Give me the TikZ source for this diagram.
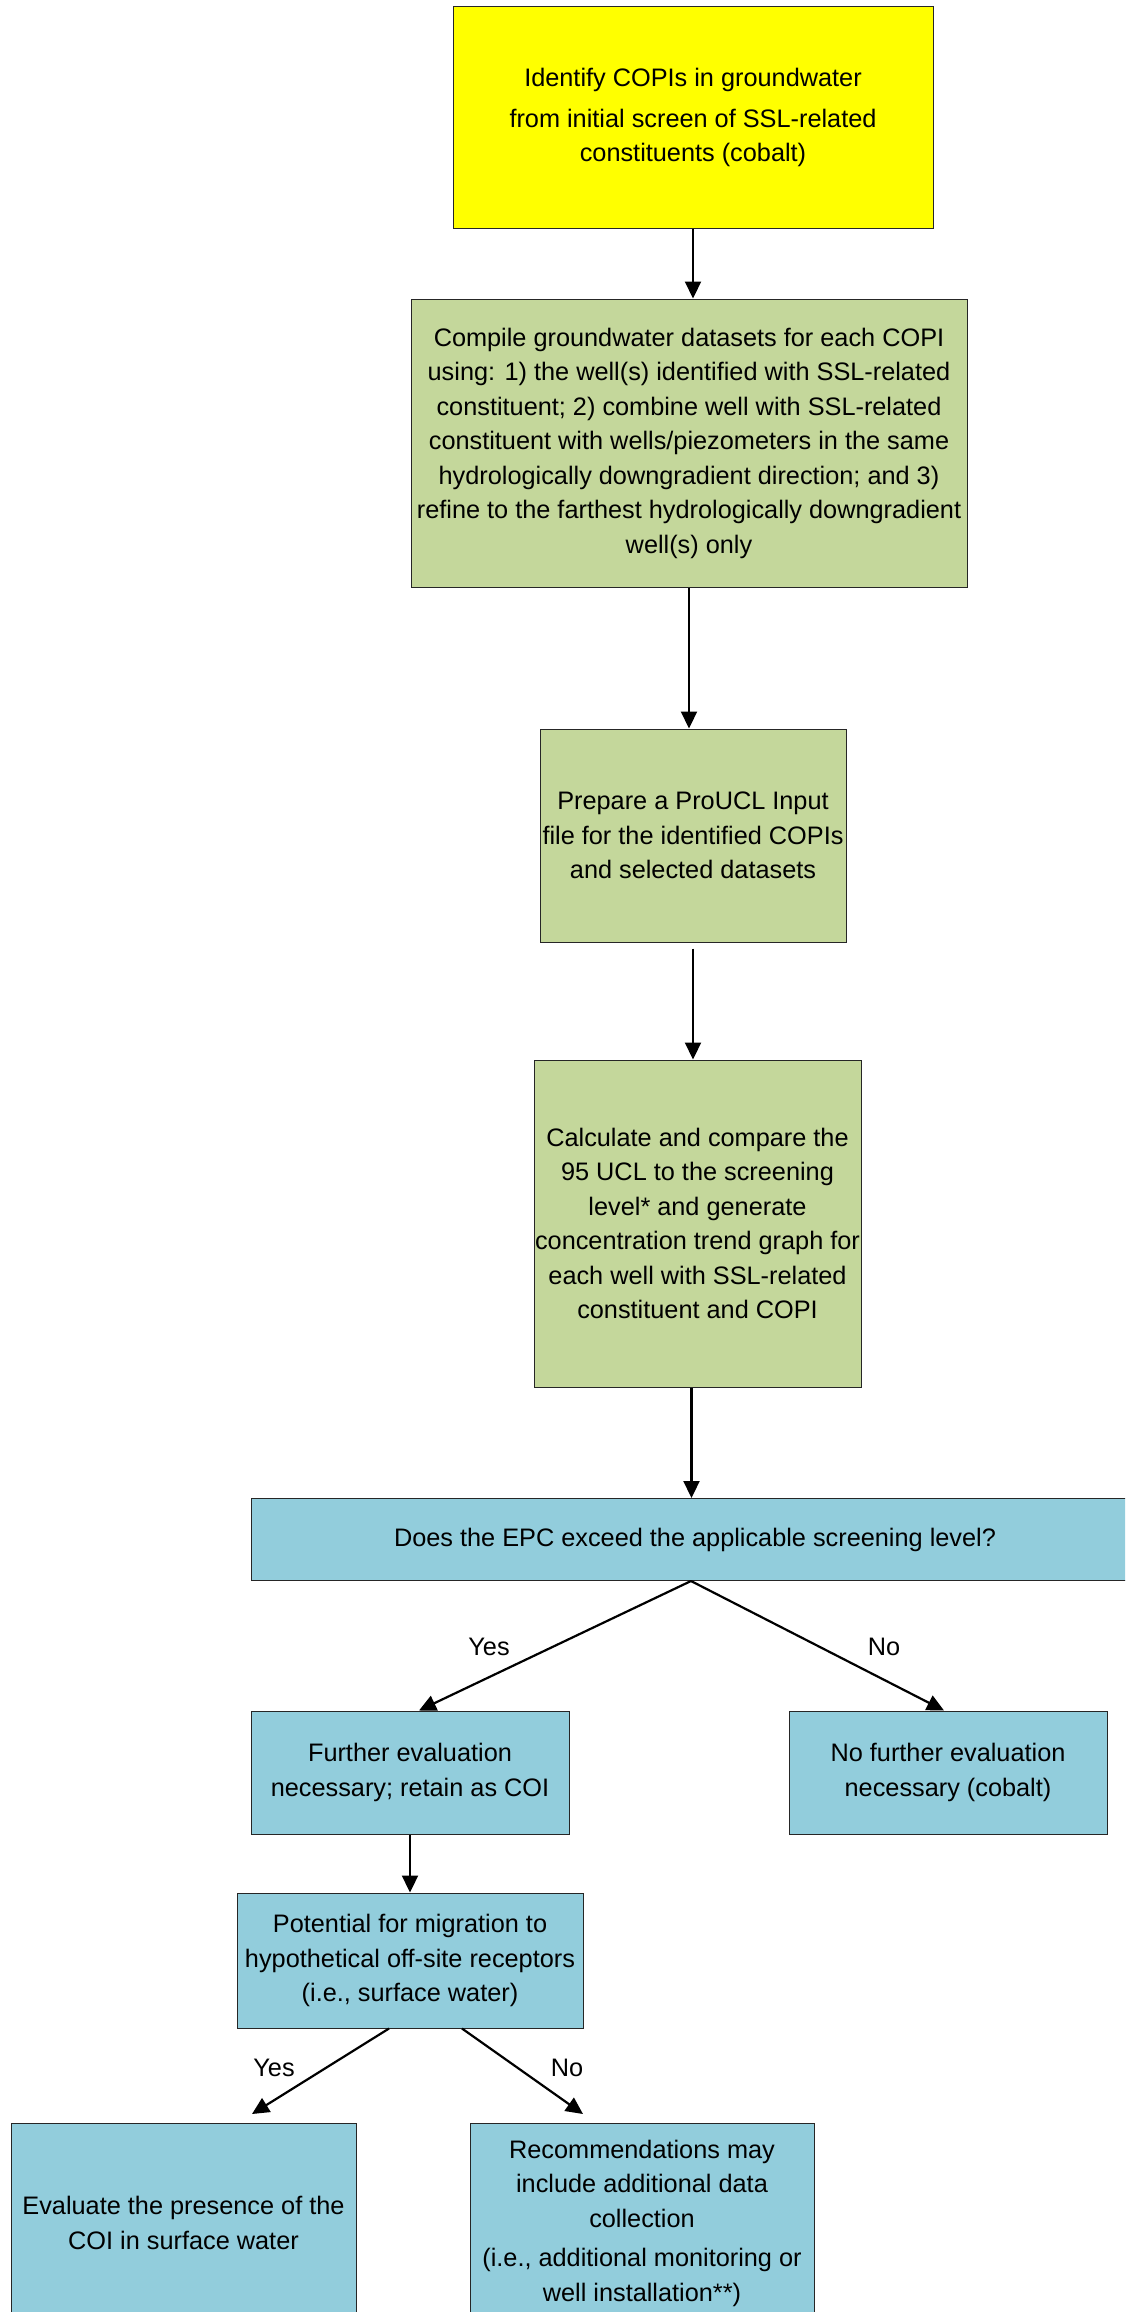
\documentclass[tikz,border=0pt]{standalone}
\usepackage{fontspec}
\setmainfont{Liberation Sans}
\usetikzlibrary{arrows.meta}
\definecolor{stepyellow}{HTML}{FFFF00}
\definecolor{stepgreen}{HTML}{C4D79B}
\definecolor{stepblue}{HTML}{92CDDC}

\begin{document}
\begin{tikzpicture}[x=0.5pt,y=-0.5pt,
        box/.style={draw=black!85,line width=0.5pt,inner sep=0pt,align=center,
            font=\fontsize{12.65}{17.25}\selectfont},
        flow/.style={-{Triangle[length=8.5pt,width=8pt]},line width=1.1pt},
        lbl/.style={font=\fontsize{12.65}{17.25}\selectfont}]
        \useasboundingbox (0,0) rectangle (1125,2312);
        \clip (0,0) rectangle (1125,2312);

        \node[box,fill=stepyellow,minimum width=240pt,minimum height=110.5pt] (ident) at (693,117.5)
            {Identify COPIs in groundwater\\[3pt] from initial screen of SSL-related\\ constituents (cobalt)};
        \node[box,fill=stepgreen,minimum width=278pt,minimum height=144pt] (compile) at (689,443)
            {Compile groundwater datasets for each COPI\\ using: 1) the well(s) identified with SSL-related\\
             constituent; 2) combine well with SSL-related\\ constituent with wells/piezometers in the same\\
             hydrologically downgradient direction; and 3)\\ refine to the farthest hydrologically downgradient\\ well(s) only};
        \node[box,fill=stepgreen,minimum width=153pt,minimum height=106.5pt] (prepare) at (693,835.5)
            {Prepare a ProUCL Input\\ file for the identified COPIs\\ and selected datasets};
        \node[box,fill=stepgreen,minimum width=163.5pt,minimum height=163.5pt] (calc) at (697.5,1223.5)
            {Calculate and compare the\\ 95 UCL to the screening\\ level* and generate\\
             concentration trend graph for\\ each well with SSL-related\\ constituent and COPI};
        \node[box,fill=stepblue,minimum width=444pt,minimum height=41pt] (epc) at (695,1539.5)
            {Does the EPC exceed the applicable screening level?};
        \node[box,fill=stepblue,minimum width=159pt,minimum height=61.5pt] (further) at (410,1772.5)
            {Further evaluation\\ necessary; retain as COI};
        \node[box,fill=stepblue,minimum width=159pt,minimum height=61.5pt] (nofurther) at (948,1772.5)
            {No further evaluation\\ necessary (cobalt)};
        \node[box,fill=stepblue,minimum width=173pt,minimum height=67.5pt] (potential) at (410,1960.5)
            {Potential for migration to\\ hypothetical off-site receptors\\ (i.e., surface water)};
        \node[box,fill=stepblue,minimum width=172.5pt,minimum height=100pt] (evaluate) at (183.5,2223)
            {Evaluate the presence of the\\ COI in surface water};
        \node[box,fill=stepblue,minimum width=172pt,minimum height=100pt] (recommend) at (642,2223)
            {Recommendations may\\ include additional data\\ collection\\[2.5pt]
             (i.e., additional monitoring or\\ well installation**)};

        \coordinate (yestip) at (252,2114);
        \coordinate (notip) at (583,2114);

        \draw[flow] (ident.south) -- (ident.south |- compile.north);
        \draw[flow] (compile.south) -- (compile.south |- prepare.north);
        \draw[flow] ([yshift=-3pt]prepare.south) -- (prepare.south |- calc.north);
        \draw[flow] ([xshift=-3pt]calc.south) -- ([xshift=-3pt]calc.south |- epc.north);
        \draw[flow] ([xshift=-2pt]epc.south) -- ([xshift=4.5pt]further.north);
        \draw[flow] ([xshift=-2pt]epc.south) -- ([xshift=-2pt]nofurther.north);
        \draw[flow] (further.south) -- (potential.north);
        \draw[flow] ([xshift=-10.5pt]potential.south) -- (yestip);
        \draw[flow] ([xshift=26pt]potential.south) -- (notip);

        \node[lbl] (yes1) at (489,1647) {Yes};
        \node[lbl] (no1) at (884,1647) {No};
        \node[lbl] (yes2) at (274,2068) {Yes};
        \node[lbl] (no2) at (567,2068) {No};
    \end{tikzpicture}
\end{document}
